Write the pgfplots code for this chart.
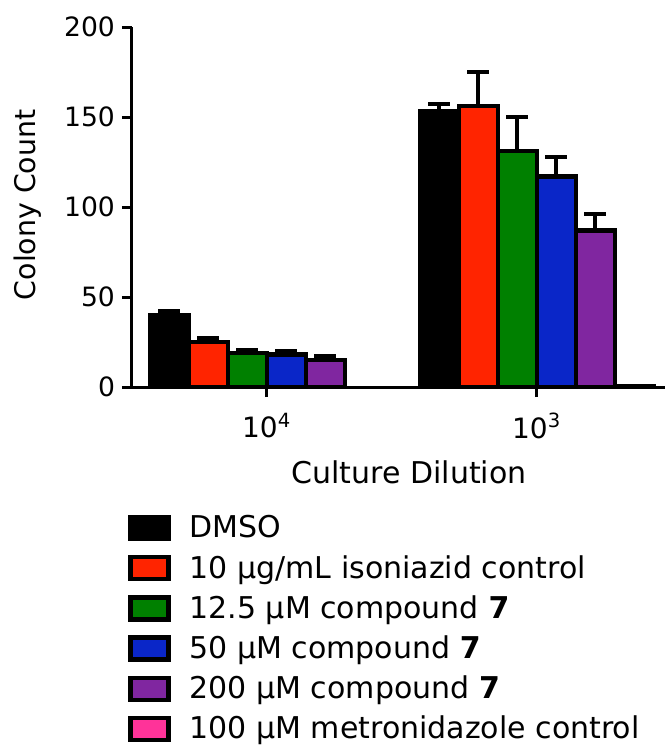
\documentclass[border=0pt]{standalone}
\usepackage{fontspec}
\setmainfont{DejaVu Sans}
\usepackage{pgfplots}
\pgfplotsset{compat=1.18}
\definecolor{cRed}{HTML}{FF2400}
\definecolor{cGreen}{HTML}{008000}
\definecolor{cBlue}{HTML}{0A26C8}
\definecolor{cPurple}{HTML}{8026A0}
\definecolor{cPink}{HTML}{FF3399}

\pgfplotsset{
  errbar/.style={
    error bars/.cd, y dir=plus, y explicit,
    error bar style={line width=2pt, black, solid},
    error mark options={rotate=90, line width=2pt, black, mark size=5.5pt},
  },
}

\begin{document}
\begin{tikzpicture}
\useasboundingbox (-66pt,-179.5pt) rectangle (266.5pt,193.5pt);
\begin{axis}[
  at={(0pt,0pt)}, anchor=south west,
  scale only axis, width=266.5pt, height=180pt,
  ybar=0pt, bar width=19.5pt,
  xmin=-0.499, xmax=1.475, ymin=0, ymax=200,
  xtick={0,1}, xticklabels={10\textsuperscript{4},10\textsuperscript{3}},
  ytick={0,50,100,150,200},
  axis x line=bottom, axis y line=left,
  axis line style={-, line width=1.5pt},
  tick align=outside, major tick length=5pt,
  tick style={line width=1.5pt, black},
  yticklabel style={font=\fontsize{13.3}{15}\selectfont},
  xticklabel style={font=\fontsize{14}{16}\selectfont, yshift=-4.5pt},
  /pgf/number format/assume math mode=true,
  xlabel={Culture Dilution},
  ylabel={Colony Count},
  xlabel style={font=\fontsize{15}{17}\selectfont, at={(axis description cs:0.52,-0.236)}, anchor=center},
  ylabel style={font=\fontsize{14.2}{16}\selectfont, at={(axis description cs:-0.195,0.506)}, anchor=center},
  every axis plot/.append style={draw=black, line width=2.2pt},
  legend image code/.code={\draw[#1, line width=2.2pt] (0pt,-5.5pt) rectangle (19pt,5.5pt);},
  legend cell align=left,
  legend style={at={(axis description cs:-0.019,-0.334)}, anchor=north west,
    draw=none, fill=none, font=\fontsize{15}{17}\selectfont,
    row sep=3.2pt,
    /tikz/every odd column/.append style={column sep=7.5pt}},
]
\addplot[fill=black, errbar] coordinates {(0,40) +- (0,2.5) (1,153) +- (0,4)};
\addplot[fill=cRed, errbar] coordinates {(0,25) +- (0,2.5) (1,156) +- (0,19)};
\addplot[fill=cGreen, errbar] coordinates {(0,19) +- (0,1.5) (1,131) +- (0,19)};
\addplot[fill=cBlue, errbar] coordinates {(0,18) +- (0,2) (1,117) +- (0,11)};
\addplot[fill=cPurple, errbar] coordinates {(0,15) +- (0,2) (1,87) +- (0,9)};
\addplot[fill=cPink] coordinates {(1,0.5)};
\legend{DMSO, 10 µg/mL isoniazid control, 12.5 µM compound \textbf{7},
  50 µM compound \textbf{7}, 200 µM compound \textbf{7},
  100 µM metronidazole control}
\end{axis}
\end{tikzpicture}
\end{document}
